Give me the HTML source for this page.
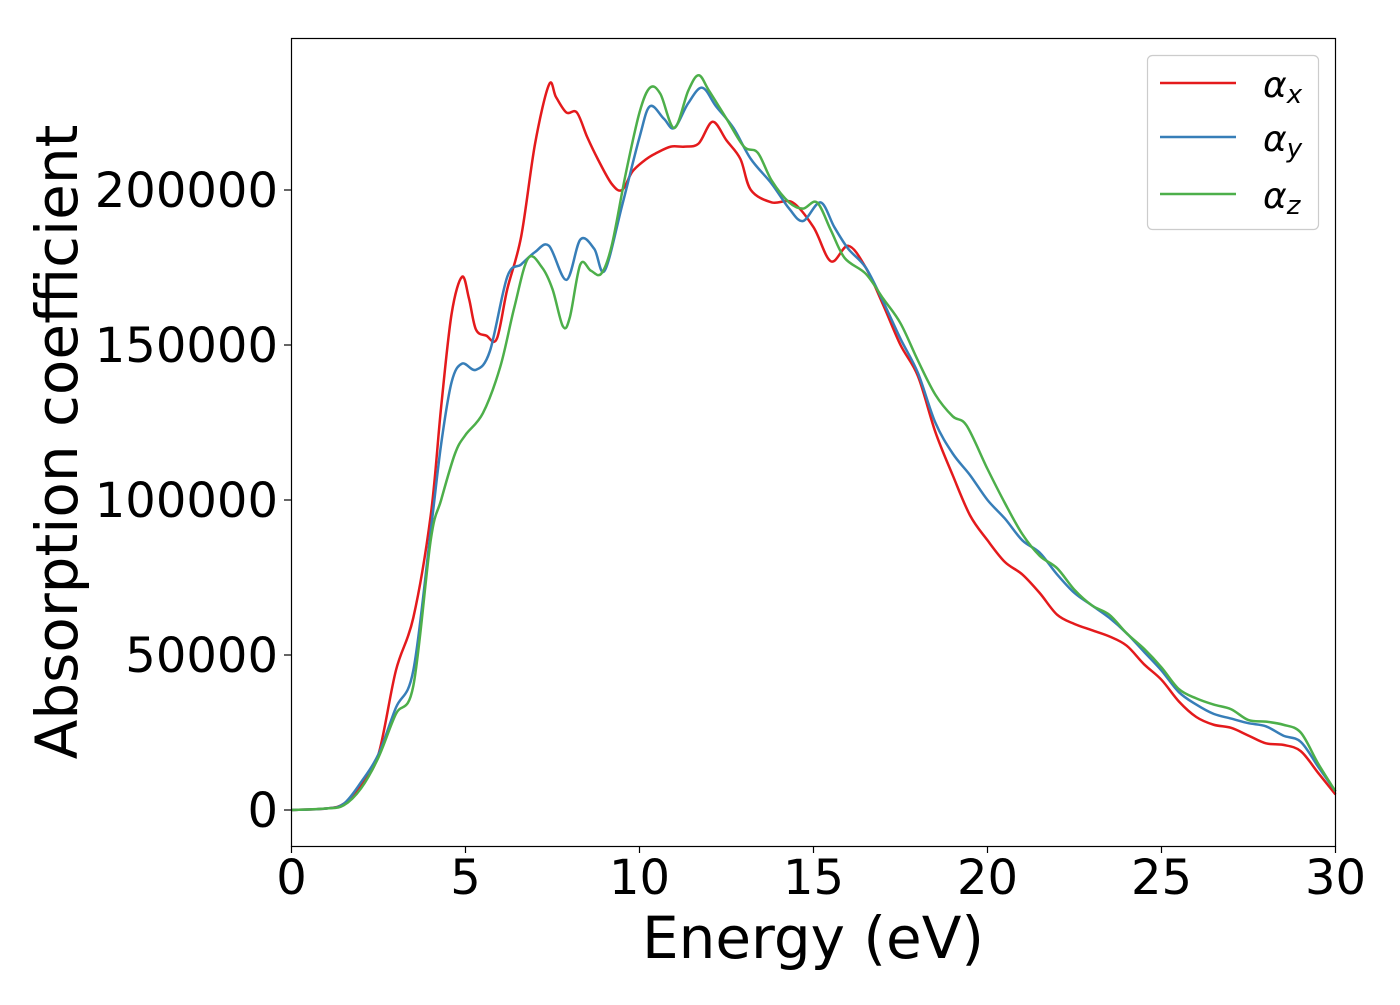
<!DOCTYPE html>
<html><head><meta charset="utf-8"><style>
body{margin:0;background:#fff;}
svg text{font-family:"DejaVu Sans","Liberation Sans",sans-serif;fill:#000;}
</style></head><body>
<svg id="chart" width="1400" height="1000" xmlns="http://www.w3.org/2000/svg">
<rect x="0" y="0" width="1400" height="1000" fill="#fff"/>
<g id="series"></g>
<rect x="291.5" y="38.5" width="1044" height="808" fill="none" stroke="#000" stroke-width="1.2"/>
<g id="xticks"></g>
<g id="yticks"></g>
<text x="813" y="958" font-size="58" text-anchor="middle">Energy (eV)</text>
<text transform="translate(77,442) rotate(-90)" font-size="58" text-anchor="middle">Absorption coefficient</text>
<g>
<rect x="1147.5" y="55.5" width="171" height="174" rx="5" fill="#fff" fill-opacity="0.8" stroke="#ccc" stroke-width="1.2"/>
<line x1="1160" y1="83" x2="1236" y2="83" stroke="#e41a1c" stroke-width="2.5"/>
<text x="1263" y="97" font-size="36" font-style="italic">α<tspan font-size="26" dy="6">x</tspan></text>
<line x1="1160" y1="137" x2="1236" y2="137" stroke="#377eb8" stroke-width="2.5"/>
<text x="1263" y="151" font-size="36" font-style="italic">α<tspan font-size="26" dy="6">y</tspan></text>
<line x1="1160" y1="194" x2="1236" y2="194" stroke="#4daf4a" stroke-width="2.5"/>
<text x="1263" y="208" font-size="36" font-style="italic">α<tspan font-size="26" dy="6">z</tspan></text>
</g>
</svg>
<script>
const xTicks=[0,5,10,15,20,25,30];
const yTicks=[0,50000,100000,150000,200000];
const ex=[0,1,1.5,2,2.5,3,3.5,4,4.3,4.6,4.9,5.1,5.3,5.6,5.9,6.2,6.6,7,7.4,7.6,7.9,8.2,8.5,8.8,9.2,9.5,9.8,10.2,10.5,10.9,11.3,11.7,12.1,12.5,12.9,13.2,13.8,14.4,15,15.5,16,16.5,17,17.5,18,18.5,19,19.5,20,20.5,21,21.5,22,22.5,23,23.5,24,24.5,25,25.5,26,26.5,27,27.5,28,28.5,29,29.5,30];
const ax=[0,500,2000,8000,18000,45000,62000,95000,130000,160000,172000,165000,155000,153000,152000,168000,185000,215000,234000,230000,225000,225000,217000,210000,202000,200000,206000,210000,212000,214000,214000,215000,222000,216000,210000,200000,196000,196000,188000,177000,182000,175000,163000,150000,140000,122000,108000,95000,87000,80000,76000,70000,63000,60000,58000,56000,53000,47000,42000,35000,30000,27500,26500,24000,21500,21000,19000,12000,5000];
const ey=[0,1,1.5,2,2.5,3,3.5,4,4.3,4.6,4.9,5.3,5.7,6.2,6.6,7,7.4,7.9,8.3,8.7,9,9.5,10,10.3,10.7,11,11.4,11.8,12.2,12.7,13.2,13.8,14.3,14.7,15.2,15.6,16,16.5,17,17.5,18,18.5,19,19.5,20,20.5,21,21.5,22,22.5,23,23.5,24,24.5,25,25.5,26,26.5,27,27.5,28,28.5,29,29.5,30];
const ay=[0,500,2000,9000,18000,33000,45000,90000,118000,138000,144000,142000,148000,172000,176000,180000,182000,171000,184000,181000,174000,195000,217000,227000,223000,220000,228000,233000,227000,220000,210000,202000,194000,190000,196000,188000,181000,175000,164000,152000,141000,125000,115000,108000,100000,94000,87000,83000,76000,70000,66000,62000,57000,51000,45000,38000,34000,31000,29500,28000,27000,24000,22000,14000,6000];
const ez=[0,1,1.5,2,2.5,3,3.5,4,4.3,4.7,5,5.5,6,6.4,6.8,7.2,7.5,7.8,8,8.3,8.6,8.9,9.2,9.6,10,10.3,10.6,11,11.4,11.7,12,12.5,13,13.4,13.8,14.3,14.7,15.1,15.5,15.9,16.5,17,17.5,18,18.5,19,19.4,20,20.5,21,21.5,22,22.5,23,23.5,24,24.5,25,25.5,26,26.5,27,27.5,28,28.5,29,29.5,30];
const az=[0,500,1500,7000,17000,31000,40000,87000,100000,115000,121000,128000,143000,162000,178000,175000,168000,156000,159000,176000,174000,173000,182000,205000,225000,233000,231000,220000,232000,237000,232000,223000,214000,212000,203000,196000,194000,196000,187000,178000,173000,165000,157000,145000,134000,127000,124000,110000,99000,89000,82000,78000,71000,66000,63000,57000,52000,46000,39000,36000,34000,32500,29000,28500,27500,25000,15000,6000];
const X=v=>291.5+v*(1044/30);
const Y=v=>810-v*0.0031;
const NS="http://www.w3.org/2000/svg";
function mk(t,a){const e=document.createElementNS(NS,t);for(const k in a)e.setAttribute(k,a[k]);return e;}
function path(xs,ys){const p=xs.map((x,i)=>[X(x),Y(ys[i])]);let d=`M${p[0][0]},${p[0][1]}`;
for(let i=0;i<p.length-1;i++){const p0=p[Math.max(i-1,0)],p1=p[i],p2=p[i+1],p3=p[Math.min(i+2,p.length-1)];
d+=` C${p1[0]+(p2[0]-p0[0])/6},${p1[1]+(p2[1]-p0[1])/6} ${p2[0]-(p3[0]-p1[0])/6},${p2[1]-(p3[1]-p1[1])/6} ${p2[0]},${p2[1]}`;}return d;}
const g=document.getElementById('series');
[[ex,ax,'#e41a1c','series-alpha-x'],[ey,ay,'#377eb8','series-alpha-y'],[ez,az,'#4daf4a','series-alpha-z']].forEach(s=>{
const el=mk('path',{d:path(s[0],s[1]),fill:'none',stroke:s[2],'stroke-width':2.5});


g.appendChild(el);});
const xg=document.getElementById('xticks');
xTicks.forEach(t=>{const l=mk('line',{x1:X(t),x2:X(t),y1:846,y2:853,stroke:'#000','stroke-width':1.2});


xg.appendChild(l);
const tx=mk('text',{x:X(t),y:894,'font-size':48,'text-anchor':'middle'});tx.textContent=t;


xg.appendChild(tx);});
const yg=document.getElementById('yticks');
yTicks.forEach(t=>{const l=mk('line',{x1:284,x2:291.5,y1:Y(t),y2:Y(t),stroke:'#000','stroke-width':1.2});


yg.appendChild(l);
const tx=mk('text',{x:278,y:Y(t)+17,'font-size':48,'text-anchor':'end'});tx.textContent=t;


yg.appendChild(tx);});
</script>
</body></html>
